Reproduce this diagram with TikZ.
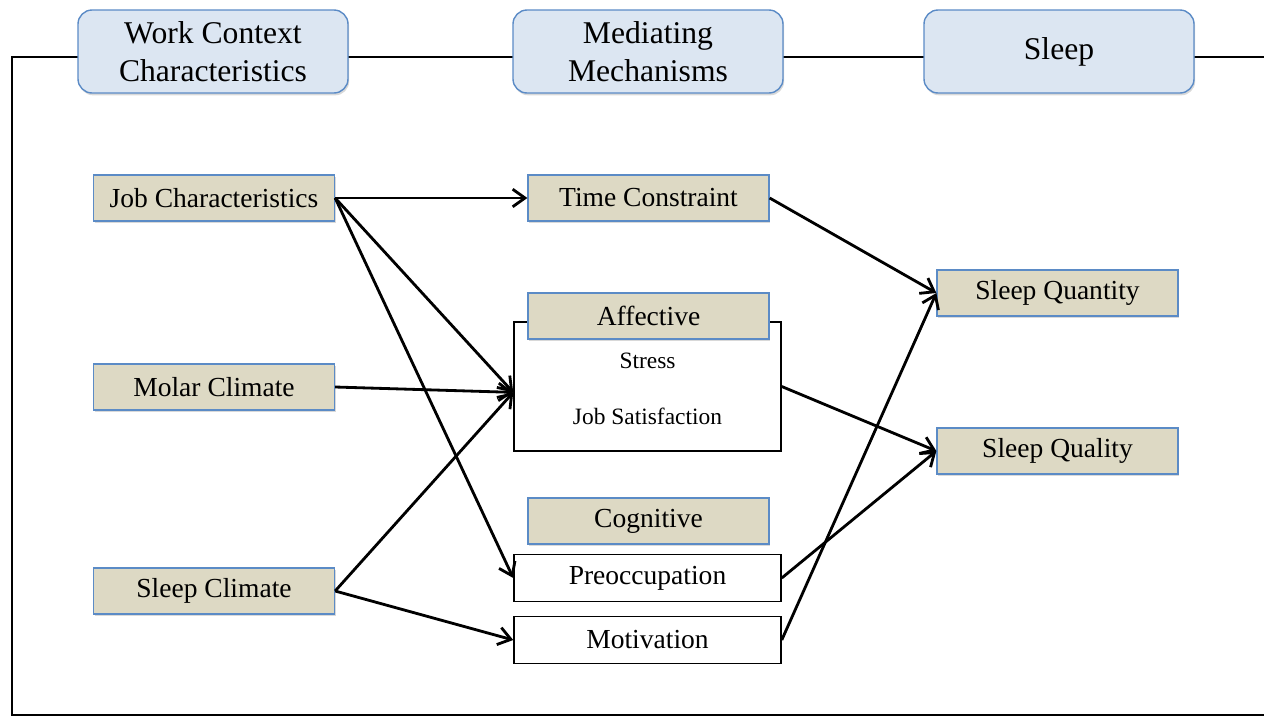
\documentclass[tikz,border=0pt]{standalone}
\usepackage{fontspec}
\setmainfont{Liberation Serif}
\usetikzlibrary{arrows.meta,shadows}
\definecolor{hdrfill}{HTML}{DCE6F2}
\definecolor{hdrdraw}{HTML}{5B8BC6}
\definecolor{tanfill}{HTML}{DDD9C4}
\definecolor{tandraw}{HTML}{5B8BC6}
\tikzset{
  hdr/.style={draw=hdrdraw, fill=hdrfill, line width=1.2pt, rounded corners=12pt,
    minimum width=270*0.03cm, minimum height=83*0.03cm, align=center,
    font=\fontsize{27}{32}\selectfont, inner sep=0pt,
    drop shadow={opacity=0.3, shadow xshift=1pt, shadow yshift=-2pt}},
  tan/.style={draw=tandraw, fill=tanfill, line width=1.1pt,
    minimum width=241*0.03cm, minimum height=46*0.03cm, inner sep=0pt,
    font=\fontsize{23.5}{28}\selectfont,
    drop shadow={opacity=0.3, shadow xshift=1pt, shadow yshift=-2pt}},
  wbox/.style={draw=black, fill=white, line width=1.3pt,
    minimum width=267*0.03cm, minimum height=47*0.03cm, inner sep=0pt,
    font=\fontsize{23.5}{28}\selectfont},
  small/.style={font=\fontsize{20}{24}\selectfont, inner sep=0pt},
  arr/.style={line width=2.4pt, -{Straight Barb[length=10.5pt, width=15pt, line width=2.4pt]}},
  frame/.style={line width=1.6pt}
}
\begin{document}
\begin{tikzpicture}[x=0.03cm, y=-0.03cm]
\useasboundingbox (0,0) rectangle (1264,717);
% frame
\coordinate (ftr) at (1266,57);
\coordinate (ftl) at (12,57);
\coordinate (fbl) at (12,715);
\coordinate (fbr) at (1266,715);
\draw[frame] (ftr) -- (ftl) -- (fbl) -- (fbr);
% headers
\node[hdr] (h1) at (213,51.5) {Work Context\\Characteristics};
\node[hdr] (h2) at (648,51.5) {Mediating\\Mechanisms};
\node[hdr] (h3) at (1059,51.5) {Sleep};
% left column
\node[tan] (job) at (214,198) {Job Characteristics};
\node[tan] (molar) at (214,387) {Molar Climate};
\node[tan] (sclim) at (214,591) {Sleep Climate};
% middle
\node[tan] (time) at (648.5,198) {Time Constraint};
\node[draw=black, fill=white, line width=1.3pt, minimum width=267*0.03cm, minimum height=129*0.03cm, inner sep=0pt] (aff) at (647.5,386.5) {};
\node[tan] (afft) at (648.5,316) {Affective};
\node[small] (stress) at (647.5,361) {Stress};
\node[small] (jsat) at (647.5,416) {Job Satisfaction};
\node[tan] (cog) at (648.5,521) {Cognitive};
\node[wbox] (pre) at (647.5,578) {Preoccupation};
\node[wbox] (mot) at (647.5,640) {Motivation};
% right
\node[tan] (squan) at (1057.5,293) {Sleep Quantity};
\node[tan] (squal) at (1057.5,451) {Sleep Quality};
% arrows
\draw[arr] (job.east) -- (time.west);
\draw[arr] (job.east) -- ([yshift=-5]aff.west);
\draw[arr] (job.east) -- (pre.west);
\draw[arr] (molar.east) -- ([yshift=-5]aff.west);
\draw[arr] (sclim.east) -- ([yshift=-5]aff.west);
\draw[arr] (sclim.east) -- (mot.west);
\draw[arr] (time.east) -- (squan.west);
\draw[arr] (aff.east) -- (squal.west);
\draw[arr] (pre.east) -- (squal.west);
\draw[arr] (mot.east) -- (squan.west);
\end{tikzpicture}
\end{document}
